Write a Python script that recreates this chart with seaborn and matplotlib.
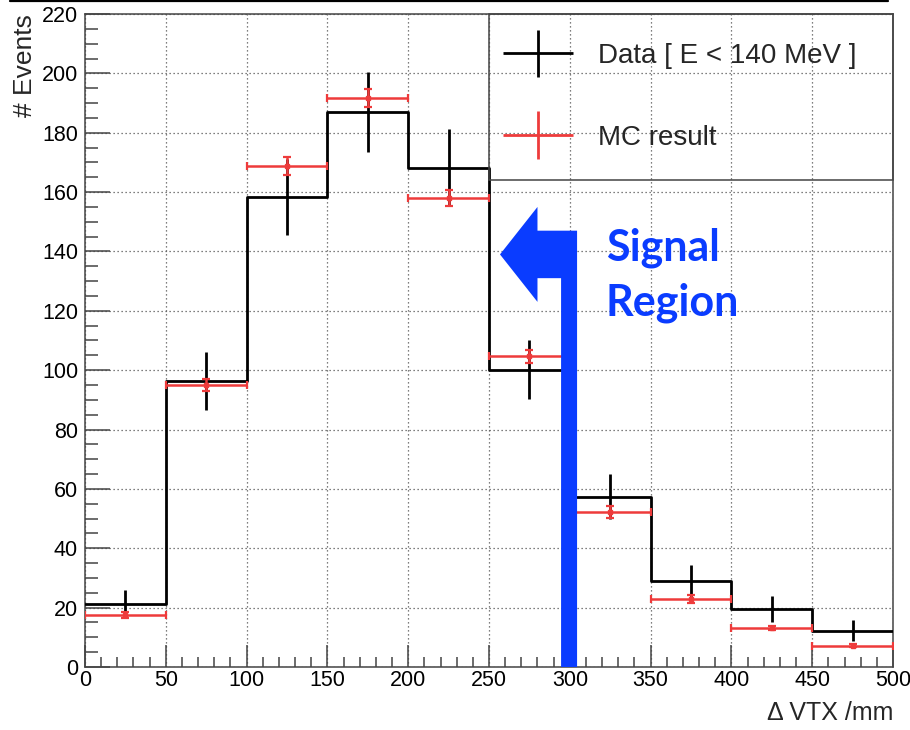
import numpy as np
import pandas as pd
import matplotlib
matplotlib.use("Agg")
import matplotlib.pyplot as plt
import seaborn as sns
from matplotlib.patches import Polygon
from matplotlib.container import ErrorbarContainer
from matplotlib.legend_handler import HandlerErrorbar
from matplotlib.ticker import MultipleLocator
from matplotlib.lines import Line2D

# ---- data ----
bin_edges = [0, 50, 100, 150, 200, 250, 300, 350, 400, 450, 500]
bin_centers = [25, 75, 125, 175, 225, 275, 325, 375, 425, 475]
data_counts = [21.3, 96.3, 158.3, 187.0, 168.2, 100.2, 57.3, 29.1, 19.5, 12.2]
data_err = [4.6, 9.8, 12.9, 13.6, 13.0, 10.0, 7.6, 5.4, 4.4, 3.5]
mc_counts = [17.5, 95.0, 168.8, 191.6, 158.0, 104.7, 52.1, 22.9, 13.1, 7.2]
mc_err = [0.9, 2.0, 3.0, 3.0, 2.8, 2.2, 2.0, 1.3, 0.7, 0.5]
legend_labels = ["Data [ E < 140 MeV ]", "MC result"]
x_label = "\u0394 VTX /mm"
y_label = "# Events"
annot_lines = ["Signal", "Region"]

# ---- annotation geometry (arrow marking the signal region) ----
arrow_shape = [(304.5, 0), (304.5, 147), (280, 147), (280, 155), (256.8, 139),
               (280, 123), (280, 131), (294.6, 131), (294.6, 0)]

BLUE = "#0A3CFF"
RED = "#EE3B3B"

sns.set_theme(style="white")
plt.rcParams["font.family"] = ["Liberation Sans", "DejaVu Sans"]

fig = plt.figure(figsize=(9.1, 7.3), dpi=100)
ax = fig.add_axes([85 / 910, 63 / 730, 808 / 910, 653 / 730])

df = pd.DataFrame({"center": bin_centers, "data": data_counts, "mc": mc_counts})

# data histogram (step outline)
sns.histplot(data=df, x="center", weights="data", bins=bin_edges, element="step",
             fill=False, color="black", linewidth=2.0, ax=ax, zorder=3)

# data error bars (vertical only)
ax.errorbar(bin_centers, data_counts, yerr=data_err, fmt="none", ecolor="black",
            elinewidth=2.0, capsize=0, zorder=3)

# MC points with bin-width horizontal bars
ax.errorbar(bin_centers, mc_counts, xerr=25, yerr=mc_err, fmt="s", color=RED,
            ms=3.2, elinewidth=1.8, capsize=3, capthick=1.6, zorder=4)

# legend proxies
h_data = ax.errorbar([np.nan], [np.nan], xerr=[1], yerr=[1], fmt="none",
                     ecolor="black", elinewidth=2.0)
h_mc = ax.errorbar([np.nan], [np.nan], xerr=[1], yerr=[1], fmt="none",
                   ecolor=RED, elinewidth=2.0)

ax.set_xlim(0, 500)
ax.set_ylim(0, 220)

# ticks
ax.xaxis.set_major_locator(MultipleLocator(50))
ax.xaxis.set_minor_locator(MultipleLocator(10))
ax.yaxis.set_major_locator(MultipleLocator(20))
ax.yaxis.set_minor_locator(MultipleLocator(5))
ax.tick_params(axis="both", which="both", direction="in", top=False, right=False,
               bottom=True, left=True, color="#444444", width=1.1, labelsize=15.5,
               labelcolor="black")
ax.tick_params(axis="x", which="major", length=16, pad=2.5)
ax.tick_params(axis="x", which="minor", length=7)
ax.tick_params(axis="y", which="major", length=18, pad=5)
ax.tick_params(axis="y", which="minor", length=9)

# grid
ax.grid(True, which="major", linestyle=(0, (1, 2.2)), color="#555555", linewidth=0.9)
ax.set_axisbelow(True)

for s in ax.spines.values():
    s.set_visible(True)
    s.set_color("#444444")
    s.set_linewidth(1.1)

# axis labels
ax.set_xlabel(x_label, fontsize=18, loc="right")
ax.xaxis.set_label_coords(1.0, -0.052)
ax.set_ylabel(y_label, fontsize=19, loc="top")
ax.yaxis.set_label_coords(-0.059, 1.0)

# legend
leg = ax.legend([h_data, h_mc], legend_labels,
                handler_map={ErrorbarContainer: HandlerErrorbar(xerr_size=1.26, yerr_size=0.86)},
                loc="upper left", bbox_to_anchor=(0.5, 0.0, 0.5, 1.0), mode="expand",
                fontsize=20, frameon=True, fancybox=False, framealpha=1.0,
                facecolor="none", edgecolor="#444444", borderpad=1.05,
                borderaxespad=0.0, labelspacing=2.0, handlelength=1.44,
                handletextpad=1.44)
leg.get_frame().set_linewidth(1.1)
leg.set_zorder(6)

# signal region arrow + text
ax.add_patch(Polygon(arrow_shape, closed=True, facecolor=BLUE, edgecolor="none", zorder=5))
ax.text(322.4, 137, annot_lines[0], color=BLUE, fontsize=31, fontweight="bold",
        family=["Lato", "DejaVu Sans"], ha="left", va="baseline", zorder=6)
ax.text(322.4, 118.5, annot_lines[1], color=BLUE, fontsize=31, fontweight="bold",
        family=["Lato", "DejaVu Sans"], ha="left", va="baseline", zorder=6)

# slide rule line at the very top
fig.add_artist(Line2D([10 / 910, 888 / 910], [1 - 1.2 / 730, 1 - 1.2 / 730],
                      transform=fig.transFigure, color="black", linewidth=1.6))

fig.savefig("out.png", dpi=100)
